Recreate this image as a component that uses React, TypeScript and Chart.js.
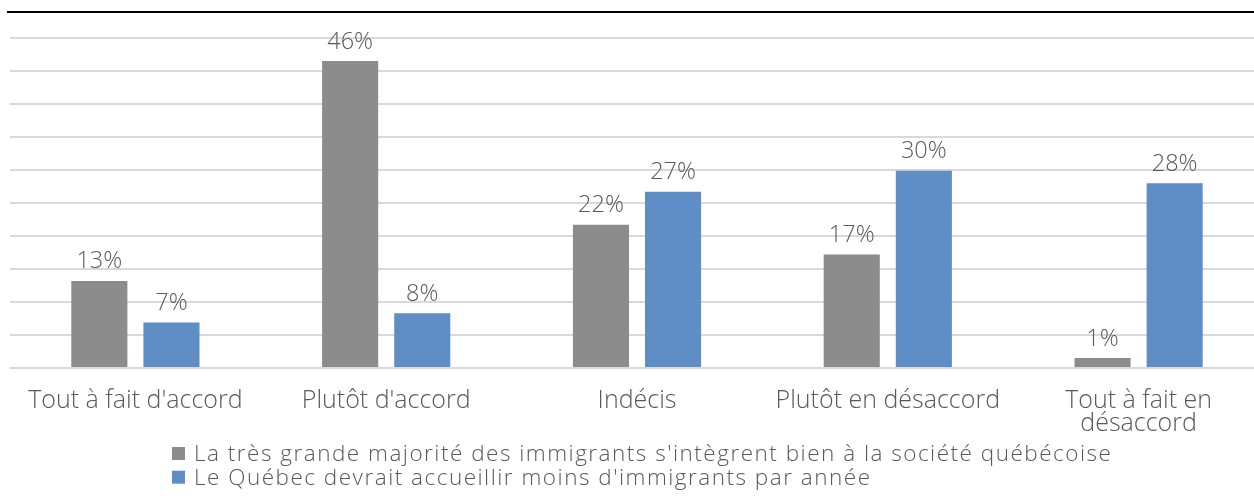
import React, { useEffect, useRef } from "react";
import { Chart, registerables } from "chart.js";

Chart.register(...registerables);

const categories: (string | string[])[] = [
  "Tout à fait d'accord",
  "Plutôt d'accord",
  "Indécis",
  "Plutôt en désaccord",
  ["Tout à fait en", "désaccord"],
];
const seriesNames = [
  "La très grande majorité des immigrants s'intègrent bien à la société québécoise",
  "Le Québec devrait accueillir moins d'immigrants par année",
];
const integrentValues = [13.2, 46.5, 21.7, 17.2, 1.5];
const moinsValues = [6.9, 8.3, 26.7, 29.9, 28.0];
const valueLabels1 = ["13%", "46%", "22%", "17%", "1%"];
const valueLabels2 = ["7%", "8%", "27%", "30%", "28%"];
const colors = ["#8c8c8c", "#5f8ec6"];

const FONT = "'Open Sans', 'Segoe UI', sans-serif";
const TEXT = "#595959";

const labelPlugin = {
  id: "valueLabels",
  afterDatasetsDraw(chart: any) {
    const ctx = chart.ctx;
    ctx.save();
    ctx.font = `300 23.5px ${FONT}`;
    ctx.fillStyle = TEXT;
    ctx.textAlign = "center";
    ctx.textBaseline = "alphabetic";
    const lbls = [valueLabels1, valueLabels2];
    chart.data.datasets.forEach((ds: any, i: number) => {
      const meta = chart.getDatasetMeta(i);
      meta.data.forEach((bar: any, j: number) => {
        ctx.fillText(lbls[i][j], bar.x, bar.y - 12.5);
      });
    });
    ctx.restore();
  },
};

const legendPlugin = {
  id: "customLegend",
  afterDraw(chart: any) {
    const ctx = chart.ctx;
    ctx.save();
    ctx.font = `300 22.5px ${FONT}`;
    ctx.textAlign = "left";
    ctx.textBaseline = "alphabetic";
    chart.data.datasets.forEach((ds: any, i: number) => {
      const base = 461 + i * 23.7;
      ctx.fillStyle = ds.backgroundColor;
      ctx.fillRect(172, base - 14, 13, 13);
      ctx.fillStyle = TEXT;
      (ctx as any).letterSpacing = "1.5px";
      ctx.fillText(ds.label, 194, base);
      (ctx as any).letterSpacing = "0px";
    });
    ctx.restore();
  },
};

export default function App() {
  const ref = useRef<HTMLCanvasElement>(null);
  useEffect(() => {
    document.body.style.margin = "0";
    const chart = new Chart(ref.current!, {
      type: "bar",
      data: {
        labels: categories as any,
        datasets: [
          {
            label: seriesNames[0],
            data: integrentValues,
            backgroundColor: colors[0],
            barPercentage: 0.778,
            categoryPercentage: 0.575,
          },
          {
            label: seriesNames[1],
            data: moinsValues,
            backgroundColor: colors[1],
            barPercentage: 0.778,
            categoryPercentage: 0.575,
          },
        ],
      },
      options: {
        responsive: false,
        animation: false,
        layout: { padding: { left: 10, top: 38, right: 0, bottom: 0 } },
        plugins: { legend: { display: false }, tooltip: { enabled: false } },
        scales: {
          x: {
            grid: { display: false },
            border: { display: false },
            ticks: {
              color: TEXT,
              font: { family: FONT, size: 25, weight: "300" as any, lineHeight: 0.9 },
              maxRotation: 0,
              autoSkip: false,
              padding: 14,
            },
            afterFit: (s: any) => {
              s.height = 128;
            },
          },
          y: {
            min: 0,
            max: 50,
            ticks: { display: false, stepSize: 5 },
            grid: { color: "#d9d9d9", lineWidth: 2, drawTicks: false },
            border: { display: false },
            afterFit: (s: any) => {
              s.width = 0;
            },
          },
        },
      },
      plugins: [labelPlugin, legendPlugin],
    });
    return () => chart.destroy();
  }, []);
  return (
    <div
      style={{
        position: "fixed",
        left: 0,
        top: 0,
        width: 1254,
        height: 496,
        overflow: "hidden",
        background: "#fff",
      }}
    >
      <div
        style={{
          position: "absolute",
          left: 7,
          top: 11,
          width: 1247,
          height: 2,
          background: "#000",
        }}
      />
      <canvas
        ref={ref}
        width={1264}
        height={496}
        style={{ position: "absolute", left: 0, top: 0, width: 1264, height: 496 }}
      />
    </div>
  );
}
